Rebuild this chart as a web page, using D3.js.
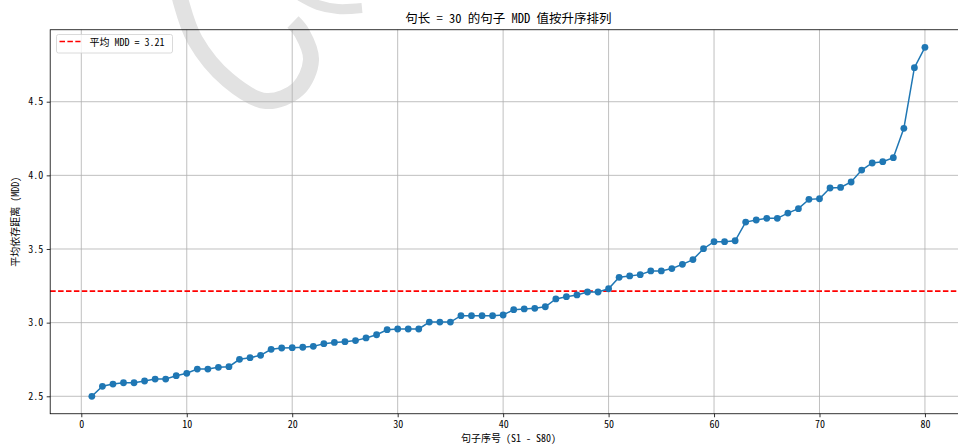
<!DOCTYPE html>
<html>
<head>
<meta charset="utf-8">
<script src="https://cdn.jsdelivr.net/npm/d3@7"></script>
<style>
  body { margin: 0; background: #fff; }
  svg { display: block; }
  text { font-family: "Noto Sans Mono CJK SC", "Noto Sans CJK SC", "DejaVu Sans Mono", sans-serif; fill: #000; }
</style>
</head>
<body>
<svg id="chart" width="958" height="444"></svg>
<script>
// Sorted MDD values, sentences S1..S80
var mddValues = [
  2.500, 2.568, 2.583, 2.592, 2.592, 2.604, 2.617, 2.617, 2.640, 2.656,
  2.685, 2.685, 2.697, 2.701, 2.751, 2.762, 2.778, 2.819, 2.828, 2.830,
  2.833, 2.839, 2.857, 2.866, 2.871, 2.878, 2.896, 2.918, 2.952, 2.957,
  2.957, 2.957, 3.004, 3.004, 3.004, 3.047, 3.047, 3.047, 3.047, 3.052,
  3.088, 3.093, 3.097, 3.108, 3.161, 3.176, 3.188, 3.208, 3.208, 3.230,
  3.308, 3.317, 3.326, 3.351, 3.351, 3.367, 3.396, 3.428, 3.502, 3.550,
  3.550, 3.556, 3.683, 3.697, 3.708, 3.708, 3.744, 3.774, 3.837, 3.841,
  3.914, 3.918, 3.955, 4.036, 4.084, 4.093, 4.120, 4.319, 4.731, 4.869
];
var sentenceIndex = mddValues.map(function (v, i) { return i + 1; });
var meanMDD = 3.214;
var xTicks = [0, 10, 20, 30, 40, 50, 60, 70, 80];
var yTicks = [2.5, 3.0, 3.5, 4.0, 4.5];

var titleText = "句长 = 30 的句子 MDD 值按升序排列";
var xLabel = "句子序号 (S1 - S80)";
var yLabel = "平均依存距离 (MDD)";
var legendText = "平均 MDD = " + meanMDD.toFixed(2);

var svg = d3.select("#chart");
var plot = { left: 50.2, right: 966.6, top: 29.75, bottom: 413.75 };

// matplotlib style 5% margins
var x = d3.scaleLinear().domain([-2.95, 83.95]).range([plot.left, plot.right]);
var y = d3.scaleLinear().domain([2.3815, 4.9885]).range([plot.bottom, plot.top]);

//** Watermark (light grey strokes behind the plot) */
var wmLine = d3.line().curve(d3.curveCatmullRom);
svg.append("path")
  .attr("d", wmLine([[178, -12], [181, 2], [195, 40], [228, 80], [266, 101], [298, 89], [311, 60], [302, 33], [293, 22]]))
  .attr("fill", "none").attr("stroke", "#e2e2e2").attr("stroke-width", 16).attr("stroke-linecap", "butt");
svg.append("path")
  .attr("d", wmLine([[300, -4], [318, 5], [338, 9], [362, 8]]))
  .attr("fill", "none").attr("stroke", "#e2e2e2").attr("stroke-width", 10);

// Grid
var grid = svg.append("g");
grid.selectAll("line.gx").data(xTicks).enter().append("line")
  .attr("x1", function (d) { return x(d); }).attr("x2", function (d) { return x(d); })
  .attr("y1", plot.top).attr("y2", plot.bottom)
  .attr("stroke", "#b0b0b0").attr("stroke-width", 0.8);
grid.selectAll("line.gy").data(yTicks).enter().append("line")
  .attr("x1", plot.left).attr("x2", plot.right)
  .attr("y1", function (d) { return y(d); }).attr("y2", function (d) { return y(d); })
  .attr("stroke", "#b0b0b0").attr("stroke-width", 0.8);

// Mean line
svg.append("line")
  .attr("x1", plot.left).attr("x2", plot.right)
  .attr("y1", y(meanMDD)).attr("y2", y(meanMDD))
  .attr("stroke", "#ff0000").attr("stroke-width", 1.6)
  .attr("stroke-dasharray", "5.5,2.4");

// Data line + markers
var line = d3.line()
  .x(function (d, i) { return x(sentenceIndex[i]); })
  .y(function (d) { return y(d); });
svg.append("path").datum(mddValues)
  .attr("d", line).attr("fill", "none")
  .attr("stroke", "#1f77b4").attr("stroke-width", 1.5);
svg.selectAll("circle.pt").data(mddValues).enter().append("circle")
  .attr("cx", function (d, i) { return x(sentenceIndex[i]); })
  .attr("cy", function (d) { return y(d); })
  .attr("r", 3.4).attr("fill", "#1f77b4");

// Axes
var xAxis = d3.axisBottom(x).tickValues(xTicks).tickSize(3.5).tickPadding(3.5).tickFormat(d3.format("d"));
var yAxis = d3.axisLeft(y).tickValues(yTicks).tickSize(3.5).tickPadding(3.5).tickFormat(d3.format(".1f"));
var gx = svg.append("g").attr("transform", "translate(0," + plot.bottom + ")").call(xAxis);
var gy = svg.append("g").attr("transform", "translate(" + plot.left + ",0)").call(yAxis);
[gx, gy].forEach(function (g) {
  g.select(".domain").remove();
  g.selectAll(".tick line").attr("stroke", "#000").attr("stroke-width", 0.8);
  g.selectAll(".tick text").style("font-size", "10px").attr("fill", "#000");
});

// Spines
svg.append("rect")
  .attr("x", plot.left).attr("y", plot.top)
  .attr("width", plot.right - plot.left).attr("height", plot.bottom - plot.top)
  .attr("fill", "none").attr("stroke", "#000").attr("stroke-width", 0.8);

// Title and labels
svg.append("text").attr("x", (plot.left + plot.right) / 2).attr("y", 23)
  .attr("text-anchor", "middle").style("font-size", "12.5px").text(titleText);
svg.append("text").attr("x", (plot.left + plot.right) / 2).attr("y", 442)
  .attr("text-anchor", "middle").style("font-size", "10px").text(xLabel);
svg.append("text")
  .attr("transform", "translate(19," + ((plot.top + plot.bottom) / 2) + ") rotate(-90)")
  .attr("text-anchor", "middle").style("font-size", "10px").text(yLabel);

// Legend
var legend = svg.append("g").attr("transform", "translate(56.5,34.5)");
legend.append("rect").attr("width", 116).attr("height", 18.5).attr("rx", 2)
  .attr("fill", "#fff").attr("fill-opacity", 0.8)
  .attr("stroke", "#d0d0d0").attr("stroke-width", 0.8);
legend.append("line").attr("x1", 3).attr("x2", 24).attr("y1", 7).attr("y2", 7)
  .attr("stroke", "#ff0000").attr("stroke-width", 1.6).attr("stroke-dasharray", "5.5,2.4");
legend.append("text").attr("x", 33).attr("y", 11).style("font-size", "10px").text(legendText);
</script>
</body>
</html>
